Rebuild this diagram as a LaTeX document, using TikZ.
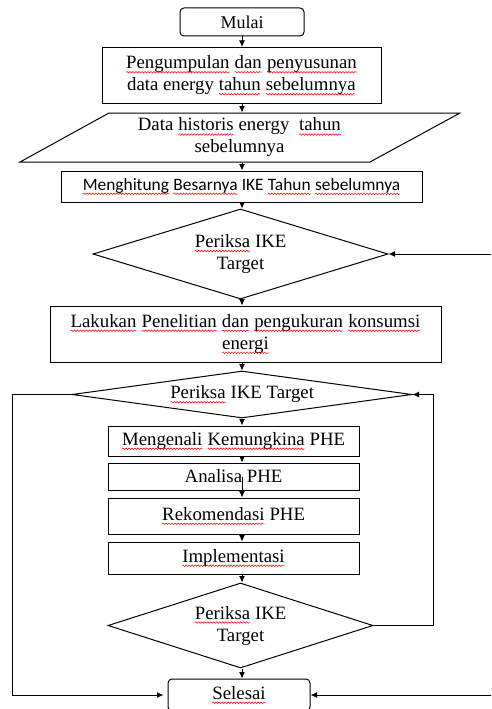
\documentclass[tikz,border=0pt]{standalone}
\usepackage{fontspec}
\setmainfont{Liberation Serif}
\newfontfamily\calibri{Carlito}
\usetikzlibrary{shapes.geometric,arrows.meta,decorations.pathmorphing}
\newcommand\sq[1]{\tikz[baseline=(sqw.base),sharp corners]{\node[rectangle,inner sep=0pt,outer sep=0pt,draw=none,minimum width=0pt,minimum height=0pt] (sqw) {#1};
  \draw[red,line width=0.5pt,decorate,decoration={snake,amplitude=0.8pt,segment length=3pt}]
   ([yshift=-3.5pt]sqw.base west) -- ([yshift=-3.5pt]sqw.base east);}}
\tikzset{
  base/.style={line width=1pt, inner sep=0pt, align=center, font=\fontsize{18.8}{22}\selectfont},
  box/.style={base, draw, rectangle},
  term/.style={box, rounded corners=4pt},
  dec/.style={base, draw, diamond},
  arr/.style={line width=1pt, -{Latex[length=6.5pt,width=6pt]}},
  ln/.style={line width=1pt}
}
\begin{document}
\begin{tikzpicture}[x=1pt,y=-1pt]
\useasboundingbox (0,0) rectangle (491,709);
\coordinate (ax) at (242,0);
\coordinate (lx) at (12,0);
\coordinate (rx) at (433,0);
\coordinate (in1) at (491,254);
\coordinate (in2) at (491,695);

\node[term, minimum width=124, minimum height=28, font=\fontsize{18}{22}\selectfont] (mulai) at (242,22) {Mulai};
\node[box, minimum width=279, minimum height=56] (b1) at (241.5,75.5)
  {\sq{Pengumpulan} \sq{dan} \sq{penyusunan}\\data energy \sq{tahun} \sq{sebelumnya}};
\node[base, minimum width=200, minimum height=49] (par) at (239.5,137.5)
  {Data \sq{historis} energy\ \ \sq{tahun}\\sebelumnya};
\draw[ln] (109,113) -- (460,113) -- (370,162) -- (20,162) -- cycle;
\node[box, minimum width=361, minimum height=31, font=\calibri\fontsize{17.4}{20}\selectfont] (b2) at (241.5,186.5)
  {\sq{Menghitung} \sq{Besarnya} IKE \sq{Tahun} \sq{sebelumnya}};
\node[dec, minimum width=295, minimum height=90, shape aspect=3.28] (d1) at (240.5,254)
  {\sq{Periksa} IKE\\Target};
\node[box, minimum width=391, minimum height=56] (b3) at (245.5,334)
  {\sq{Lakukan} \sq{Penelitian} \sq{dan} \sq{pengukuran} \sq{konsumsi}\\\sq{energi}};
\node[dec, minimum width=340, minimum height=47, shape aspect=7.2] (d2) at (242,394.5)
  {\sq{Periksa} IKE Target};
\node[box, minimum width=251, minimum height=30] (b4) at (233.5,441)
  {\sq{Mengenali} \sq{Kemungkina} PHE};
\node[box, minimum width=251, minimum height=27] (b5) at (233.5,476.5)
  {Analisa PHE};
\node[box, minimum width=251, minimum height=36] (b6) at (233.5,516)
  {\sq{Rekomendasi} PHE};
\node[box, minimum width=251, minimum height=32] (b7) at (233.5,558)
  {\sq{Implementasi}};
\node[dec, minimum width=265, minimum height=85, shape aspect=3.12] (d3) at (240.5,625.5)
  {\sq{Periksa} IKE\\Target};
\node[term, minimum width=142, minimum height=32] (sel) at (239,695)
  {\sq{Selesai}};

\draw[arr] (mulai.south -| ax) -- (b1.north -| ax);
\draw[arr] (b1.south -| ax) -- (par.north -| ax);
\draw[arr] (par.south -| ax) -- (b2.north -| ax);
\draw[arr] (b2.south -| ax) -- (d1.north -| ax);
\draw[arr] (d1.south -| ax) -- (b3.north -| ax);
\draw[arr] (b3.south -| ax) -- (d2.north -| ax);
\draw[arr] (d2.south -| ax) -- (b4.north -| ax);
\draw[arr] (b4.south -| ax) -- (b5.north -| ax);
\draw[arr] (b5.center -| ax) -- (b6.north -| ax);
\draw[arr] (b6.south -| ax) -- (b7.north -| ax);
\draw[arr] (b7.south -| ax) -- (d3.north -| ax);
\draw[arr] (d3.south -| ax) -- (sel.north -| ax);
\draw[arr] (in1) -- (d1.east);
\draw[arr, shorten >=4pt] (d2.west) -- (d2.west -| lx) |- (sel.west);
\draw[arr] (in2) -- (sel.east);
\draw[arr] (d3.east) -- (d3.east -| rx) |- (d2.east);
\end{tikzpicture}
\end{document}
